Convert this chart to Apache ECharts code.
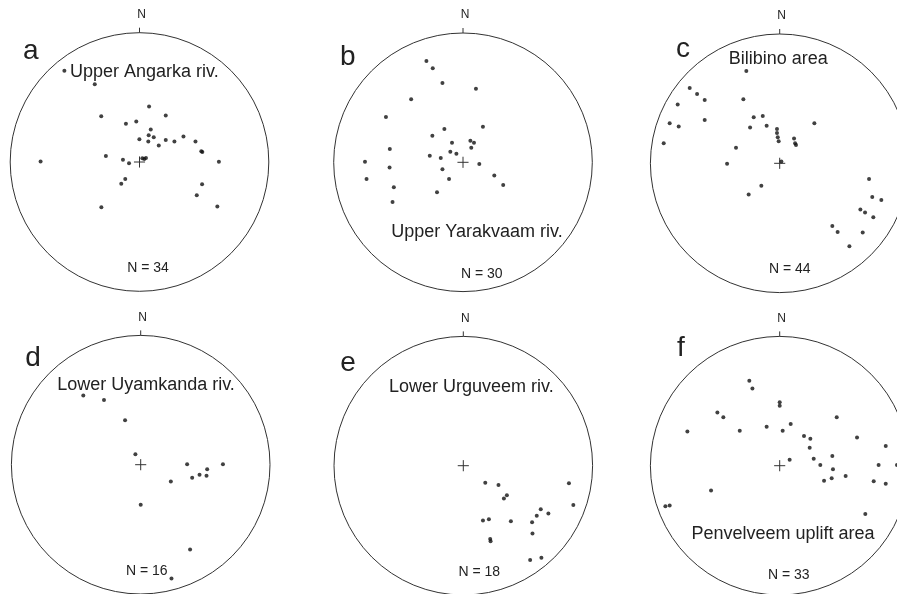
<!DOCTYPE html>
<html>
<head>
<meta charset="utf-8">
<script src="https://cdn.jsdelivr.net/npm/echarts@6/dist/echarts.min.js"></script>
<style>
  html, body { margin: 0; padding: 0; background: #fff; }
  #chart { width: 897px; height: 594px; }
</style>
</head>
<body>
<div id="chart"></div>
<script>
// ---- data (pole positions, normalised to net radius: [east, north]) ----
const panelLetters = ['a', 'b', 'c', 'd', 'e', 'f'];
const siteNames = ['Upper Angarka riv.', 'Upper Yarakvaam riv.', 'Bilibino area',
                   'Lower Uyamkanda riv.', 'Lower Urguveem riv.', 'Penvelveem uplift area'];
const sampleCounts = [34, 30, 44, 16, 18, 33];

const polesA = [
  [-0.581, 0.705], [-0.346, 0.602], [0.074, 0.429], [-0.296, 0.354], [0.203, 0.359],
  [-0.105, 0.295], [-0.025, 0.313], [0.087, 0.251], [0.071, 0.207], [0.110, 0.191],
  [-0.001, 0.176], [0.068, 0.158], [0.149, 0.127], [0.203, 0.171], [0.270, 0.158],
  [0.340, 0.197], [0.433, 0.158], [0.478, 0.083], [0.486, 0.077], [-0.260, 0.047],
  [-0.128, 0.018], [-0.081, -0.010], [0.022, 0.029], [0.037, 0.023], [0.050, 0.031],
  [-0.765, 0.003], [0.614, 0.002], [-0.110, -0.132], [-0.141, -0.168], [0.484, -0.173],
  [0.443, -0.258], [-0.295, -0.349], [0.602, -0.344]
];
const polesB = [
  [-0.283, 0.784], [-0.234, 0.728], [-0.159, 0.614], [0.100, 0.568], [-0.401, 0.488],
  [-0.596, 0.350], [-0.144, 0.257], [0.154, 0.275], [-0.237, 0.206], [-0.085, 0.152],
  [0.057, 0.167], [0.085, 0.152], [0.064, 0.113], [-0.566, 0.103], [-0.098, 0.082],
  [-0.051, 0.067], [-0.257, 0.051], [-0.172, 0.033], [-0.758, 0.005], [0.126, -0.013],
  [-0.568, -0.041], [-0.159, -0.054], [-0.746, -0.129], [0.242, -0.103], [-0.108, -0.129],
  [0.311, -0.175], [-0.535, -0.193], [-0.201, -0.231], [-0.545, -0.308]
];
const polesC = [
  [-0.258, 0.714], [-0.696, 0.582], [-0.639, 0.536], [-0.580, 0.490], [-0.789, 0.454],
  [-0.281, 0.495], [-0.580, 0.335], [-0.851, 0.309], [-0.781, 0.284], [-0.897, 0.155],
  [-0.201, 0.356], [-0.131, 0.366], [-0.229, 0.276], [-0.101, 0.291], [-0.021, 0.265],
  [-0.021, 0.235], [-0.015, 0.201], [-0.008, 0.170], [0.111, 0.191], [0.119, 0.155],
  [0.126, 0.142], [0.268, 0.309], [-0.338, 0.121], [-0.407, -0.003], [0.013, 0.013],
  [-0.142, -0.173], [-0.240, -0.242], [0.691, -0.121], [0.716, -0.260], [0.786, -0.284],
  [0.624, -0.358], [0.660, -0.381], [0.724, -0.418], [0.407, -0.485], [0.448, -0.531],
  [0.642, -0.536], [0.539, -0.642]
];
const openPolesC = [[-0.088, 0.345]];
const polesD = [
  [-0.444, 0.535], [-0.284, 0.501], [-0.121, 0.344], [-0.041, 0.080], [0.359, 0.003],
  [0.636, 0.003], [0.514, -0.036], [0.398, -0.101], [0.455, -0.078], [0.509, -0.085],
  [0.233, -0.129], [0.000, -0.310], [0.382, -0.656], [0.238, -0.881]
];
const polesE = [
  [0.170, -0.131], [0.272, -0.149], [0.314, -0.254], [0.337, -0.229], [0.817, -0.136],
  [0.851, -0.303], [0.152, -0.424], [0.198, -0.414], [0.368, -0.429], [0.532, -0.437],
  [0.568, -0.388], [0.599, -0.337], [0.658, -0.370], [0.535, -0.524], [0.208, -0.566],
  [0.211, -0.584], [0.517, -0.730], [0.604, -0.712]
];
const polesF = [
  [-0.235, 0.657], [-0.211, 0.598], [0.000, 0.490], [0.000, 0.464], [-0.482, 0.412],
  [-0.436, 0.374], [-0.714, 0.265], [-0.309, 0.271], [-0.101, 0.302], [0.023, 0.271],
  [0.085, 0.322], [0.441, 0.374], [0.188, 0.229], [0.237, 0.209], [0.232, 0.139],
  [0.598, 0.219], [0.820, 0.152], [0.077, 0.046], [0.263, 0.054], [0.407, 0.075],
  [0.314, 0.005], [0.412, -0.028], [0.765, 0.005], [0.907, 0.005], [0.343, -0.116],
  [0.402, -0.098], [0.510, -0.080], [0.727, -0.121], [0.820, -0.139], [-0.531, -0.191],
  [-0.884, -0.314], [-0.851, -0.307], [0.662, -0.374]
];
const panelPoles = [polesA, polesB, polesC, polesD, polesE, polesF];

// ---- layout ----
const R = 129.3;
const centers = [[139.5, 162], [463, 162.3], [779.7, 163.3], [140.7, 464.7], [463.3, 465.7], [779.7, 465.7]];
const letterPos = [[30.7, 51], [347.7, 57.5], [683, 49], [33, 358], [348, 363], [681, 348]];
const sitePos = [[144.3, 71.7], [477, 231.7], [778.3, 59.3], [146, 384.7], [471.3, 386.7], [783, 534]];
const countPos = [[148, 267.7], [481.7, 274], [789.7, 269.3], [146.7, 571.3], [479.3, 572.3], [788.7, 574.7]];

const FONT = 'Arial, "Liberation Sans", Helvetica, sans-serif';
const INK = '#222';

const grids = [], xAxes = [], yAxes = [], series = [], graphics = [];

centers.forEach((c, i) => {
  grids.push({ left: c[0] - R, top: c[1] - R, width: 2 * R, height: 2 * R,
               containLabel: false, outerBoundsMode: 'none' });
  xAxes.push({ type: 'value', gridIndex: i, min: -1, max: 1, show: false });
  yAxes.push({ type: 'value', gridIndex: i, min: -1, max: 1, show: false });

  // net outline, centre cross, north tick and N label
  series.push({
    type: 'custom', xAxisIndex: i, yAxisIndex: i, silent: true, clip: false,
    data: [[0, 0]],
    renderItem: function (params, api) {
      const p = api.coord([0, 0]);
      const r = api.size([1, 1])[0];
      const arm = 0.043 * r;
      const ls = { stroke: '#333', lineWidth: 1, fill: 'none' };
      return {
        type: 'group',
        children: [
          { type: 'circle', shape: { cx: p[0], cy: p[1], r: r }, style: ls },
          { type: 'line', shape: { x1: p[0] - arm, y1: p[1], x2: p[0] + arm, y2: p[1] }, style: ls },
          { type: 'line', shape: { x1: p[0], y1: p[1] - arm, x2: p[0], y2: p[1] + arm }, style: ls },
          { type: 'line', shape: { x1: p[0], y1: p[1] - r, x2: p[0], y2: p[1] - r - 5 }, style: ls },
          { type: 'text', style: { text: 'N', x: p[0] + 2, y: p[1] - r - 18, align: 'center',
              verticalAlign: 'middle', fontSize: 12, fontFamily: FONT, fill: INK } }
        ]
      };
    }
  });

  series.push({
    type: 'scatter', xAxisIndex: i, yAxisIndex: i, silent: true,
    symbol: 'circle', symbolSize: 4,
    itemStyle: { color: '#111' },
    data: panelPoles[i]
  });

  graphics.push({ type: 'text', x: letterPos[i][0], y: letterPos[i][1],
    style: { text: panelLetters[i], fontSize: 28, fontFamily: FONT, fill: INK, align: 'center', verticalAlign: 'middle' } });
  graphics.push({ type: 'text', x: sitePos[i][0], y: sitePos[i][1],
    style: { text: siteNames[i], fontSize: 18, fontFamily: FONT, fill: INK, align: 'center', verticalAlign: 'middle' } });
  graphics.push({ type: 'text', x: countPos[i][0], y: countPos[i][1],
    style: { text: 'N = ' + sampleCounts[i], fontSize: 14, fontFamily: FONT, fill: INK, align: 'center', verticalAlign: 'middle' } });
});

// open (hollow) pole in panel c
series.push({
  type: 'scatter', xAxisIndex: 2, yAxisIndex: 2, silent: true,
  symbol: 'emptyCircle', symbolSize: 4,
  itemStyle: { color: '#fff', borderColor: '#111', borderWidth: 1 },
  data: openPolesC
});

const chart = echarts.init(document.getElementById('chart'), null, { renderer: 'canvas' });
chart.setOption({
  backgroundColor: '#fff',
  animation: false,
  grid: grids,
  xAxis: xAxes,
  yAxis: yAxes,
  series: series,
  graphic: graphics
});
</script>
</body>
</html>
